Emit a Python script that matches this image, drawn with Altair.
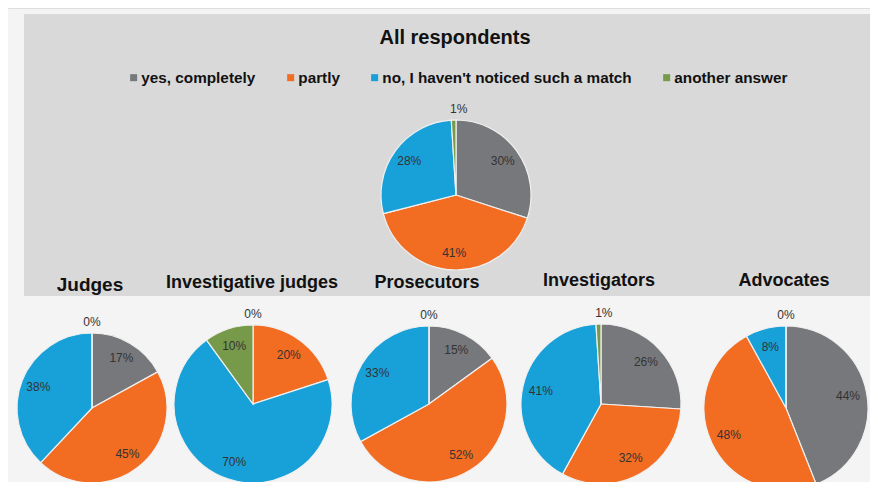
import altair as alt
import pandas as pd

groups = ["All respondents", "Judges", "Investigative judges",
          "Prosecutors", "Investigators", "Advocates"]
answers = ["yes, completely", "partly",
           "no, I haven't noticed such a match", "another answer"]
yes_completely = [30, 17, 0, 15, 26, 44]
partly = [41, 45, 20, 52, 32, 48]
no_match = [28, 38, 70, 33, 41, 8]
another = [1, 0, 10, 0, 1, 0]

colors = ["#77787c", "#f26c22", "#18a0d9", "#77994a"]

rows = []
series = [yes_completely, partly, no_match, another]
for gi, g in enumerate(groups):
    for ai, a in enumerate(answers):
        rows.append({"group": g, "answer": a, "idx": ai, "v": series[ai][gi]})
df = pd.DataFrame(rows)

W, H = 862, 474
FONT = "Liberation Sans"

# layout: centre x, centre y, radius, title x, title y, title size
layout = {
    "All respondents": (448, 187, 75, 447, 30, 20),
    "Judges": (84, 400, 75, 82, 277, 19),
    "Investigative judges": (245, 396, 79, 244, 275, 18),
    "Prosecutors": (421, 396, 78, 419, 275, 18),
    "Investigators": (593, 396, 80, 591, 273, 18),
    "Advocates": (778, 400, 82, 776, 273, 18),
}

one = pd.DataFrame({"a": [0]})
bg_hatch = alt.Chart(one).mark_rect(fill="#f4f4f4").encode(
    x=alt.value(0), x2=alt.value(W), y=alt.value(1), y2=alt.value(H))
bg_gray = alt.Chart(one).mark_rect(fill="#d9d9d9").encode(
    x=alt.value(16), x2=alt.value(W), y=alt.value(6), y2=alt.value(288))

color_enc = alt.Color(
    "answer:N",
    scale=alt.Scale(domain=answers, range=colors),
    sort=answers,
    legend=alt.Legend(
        title=None, orient="none", legendX=118, legendY=62,
        direction="horizontal", symbolType="square", symbolSize=49,
        symbolStrokeWidth=0, labelFontSize=15.3, labelFont=FONT,
        labelFontWeight="bold", labelColor="#111111", columnPadding=27,
        labelOffset=0, padding=0, labelLimit=400,
    ),
)

layers = [bg_hatch, bg_gray]
for g in groups:
    cx, cy, r, tx, ty, ts = layout[g]
    base = alt.Chart(df).transform_filter(alt.datum.group == g)
    arc = base.mark_arc(stroke="#f0f0f0", strokeWidth=1.2).encode(
        theta=alt.Theta("v:Q", stack=True, scale=alt.Scale(domain=[0, 100])),
        order=alt.Order("idx:Q", sort="ascending"),
        color=color_enc,
        x=alt.value(cx), y=alt.value(cy), radius=alt.value(r),
    )
    lab = base.transform_calculate(
        lr=f"datum.v < 3 ? {r + 11} : {r * 0.77}",
        lbl="datum.v + '%'",
    ).mark_text(font=FONT, fontSize=12, color="#333333").encode(
        theta=alt.Theta("v:Q", stack=True, scale=alt.Scale(domain=[0, 100])),
        order=alt.Order("idx:Q", sort="ascending"),
        radius=alt.Radius("lr:Q", scale=None),
        text="lbl:N",
        x=alt.value(cx), y=alt.value(cy),
    )
    title = alt.Chart(one).mark_text(
        font=FONT, fontSize=ts, fontWeight="bold", color="#111111",
        baseline="middle", align="center",
    ).encode(x=alt.value(tx), y=alt.value(ty), text=alt.value(g))
    layers += [arc, lab, title]

chart = alt.layer(*layers).properties(
    width=W, height=H, autosize=alt.AutoSizeParams(type="none"), padding=0,
).configure_view(stroke=None).configure(background="white")

chart.save("out.html", embed_options={"renderer": "svg", "actions": False})
